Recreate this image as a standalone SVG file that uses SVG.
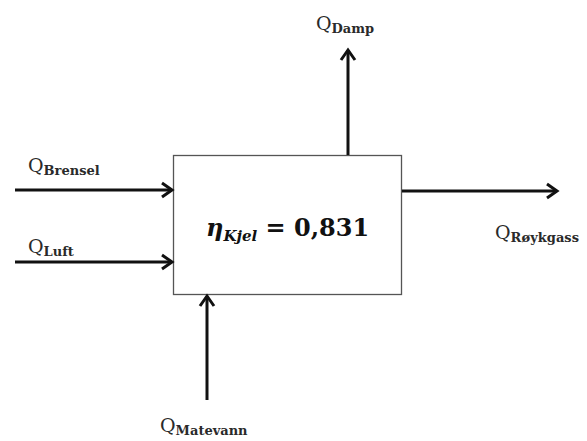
<svg xmlns="http://www.w3.org/2000/svg" width="587" height="441" viewBox="0 0 587 441">
  <style>
    .flow { stroke: #111; stroke-width: 3; fill: none; marker-end: url(#chev); }
    .q { font-family: "DejaVu Serif", "Liberation Serif", serif; font-size: 19px; fill: #2a2a2a; }
    .sub { font-size: 13px; font-weight: bold; }
    .eq { font-family: "DejaVu Serif", "Liberation Serif", serif; font-weight: bold; fill: #111; }
  </style>
  <defs>
    <marker id="chev" markerUnits="userSpaceOnUse" markerWidth="20" markerHeight="20" refX="15" refY="10" orient="auto">
      <polyline points="5,3 15,10 5,17" fill="none" stroke="#111" stroke-width="3" stroke-linejoin="miter"/>
    </marker>
  </defs>
  <rect width="587" height="441" fill="#fff"/>

  <g id="kjel">
    <rect x="173.5" y="155.5" width="228" height="139" fill="#fff" stroke="#555" stroke-width="1.3"/>
    <text class="eq" x="206" y="236" font-size="24"><tspan font-style="italic">η</tspan><tspan font-size="15" font-style="italic" dy="5">Kjel</tspan><tspan dy="-5"> = 0,831</tspan></text>
  </g>

  <g id="connectors">
    <line class="flow" x1="15" y1="190" x2="172" y2="190"/>
    <line class="flow" x1="15" y1="262" x2="172" y2="262"/>
    <line class="flow" x1="348" y1="155" x2="348" y2="50"/>
    <line class="flow" x1="402" y1="191" x2="557" y2="191"/>
    <line class="flow" x1="207" y1="400" x2="207" y2="296"/>
  </g>

  <g id="q-brensel"><text class="q" x="28" y="172">Q<tspan class="sub" dy="3">Brensel</tspan></text></g>
  <g id="q-luft"><text class="q" x="28" y="253">Q<tspan class="sub" dy="3">Luft</tspan></text></g>
  <g id="q-damp"><text class="q" x="316" y="30">Q<tspan class="sub" dy="3">Damp</tspan></text></g>
  <g id="q-roykgass"><text class="q" x="495" y="239">Q<tspan class="sub" dy="3">Røykgass</tspan></text></g>
  <g id="q-matevann"><text class="q" x="160" y="432">Q<tspan class="sub" dy="3">Matevann</tspan></text></g>
</svg>
